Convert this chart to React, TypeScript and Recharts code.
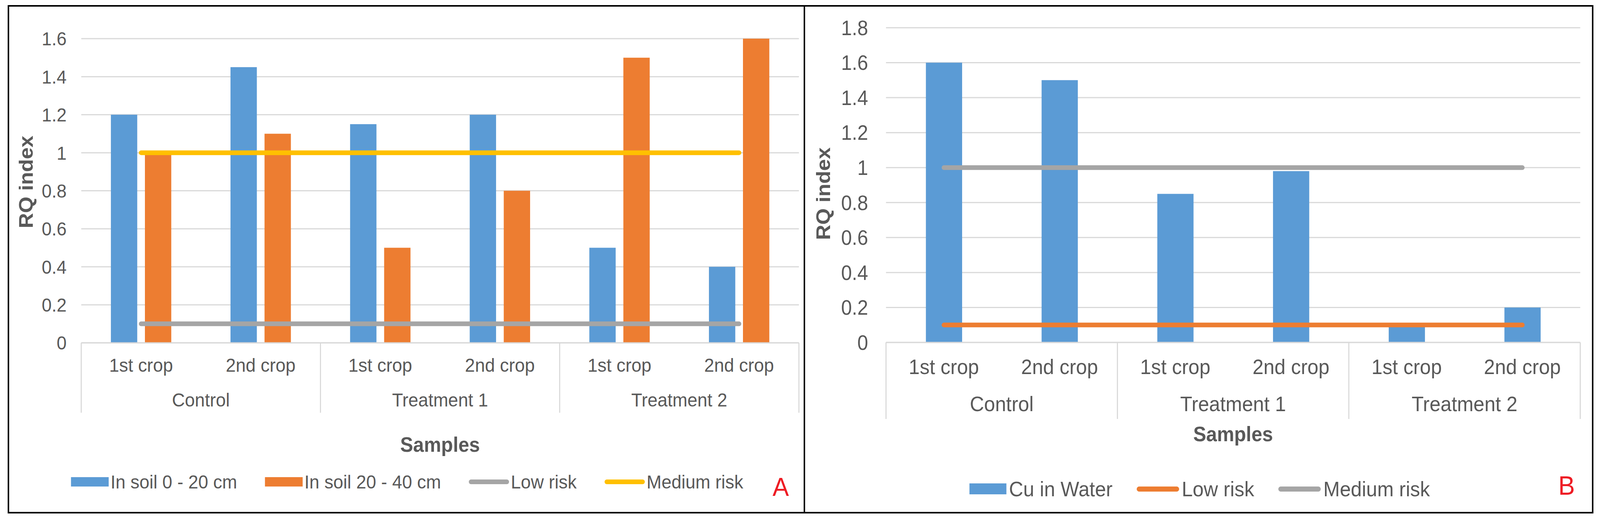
import React from "react";
import { ComposedChart, Bar, Line, XAxis, YAxis, CartesianGrid, Legend, Label } from "recharts";

// categories (two-level axis)
const crops = ["1st crop", "2nd crop", "1st crop", "2nd crop", "1st crop", "2nd crop"];
const groups = ["Control", "Control", "Treatment 1", "Treatment 1", "Treatment 2", "Treatment 2"];

// panel A: soil
const soilTop = [1.2, 1.45, 1.15, 1.2, 0.5, 0.4];
const soilDeep = [1.0, 1.1, 0.5, 0.8, 1.5, 1.6];
const soilLow = [0.1, 0.1, 0.1, 0.1, 0.1, 0.1];
const soilMedium = [1, 1, 1, 1, 1, 1];
const soilTicks = [0, 0.2, 0.4, 0.6, 0.8, 1, 1.2, 1.4, 1.6];

// panel B: water
const waterCu = [1.6, 1.5, 0.85, 0.98, 0.1, 0.2];
const waterLow = [0.1, 0.1, 0.1, 0.1, 0.1, 0.1];
const waterMedium = [1, 1, 1, 1, 1, 1];
const waterTicks = [0, 0.2, 0.4, 0.6, 0.8, 1, 1.2, 1.4, 1.6, 1.8];

const soilData = crops.map((crop, i) => ({
  id: `${groups[i]} / ${crop}`,
  top: soilTop[i],
  deep: soilDeep[i],
  low: soilLow[i],
  medium: soilMedium[i],
}));

const waterData = crops.map((crop, i) => ({
  id: `${groups[i]} / ${crop}`,
  cu: waterCu[i],
  low: waterLow[i],
  medium: waterMedium[i],
}));

const PAGE_W = 4372;
const PAGE_H = 1342;
const FONT = '"Liberation Sans", Arial, sans-serif';
const TEXT = "#595959";
const GRID = "#d9d9d9";
const BLUE = "#5b9bd5";
const ORANGE = "#ed7d31";
const GRAY = "#a5a5a5";
const GOLD = "#ffc000";

type Series = { key: string; name: string; color: string; kind: "bar" | "line" };

const soilSeries: Series[] = [
  { key: "top", name: "In soil 0 - 20 cm", color: BLUE, kind: "bar" },
  { key: "deep", name: "In soil 20 - 40 cm", color: ORANGE, kind: "bar" },
  { key: "low", name: "Low risk", color: GRAY, kind: "line" },
  { key: "medium", name: "Medium risk", color: GOLD, kind: "line" },
];

const waterSeries: Series[] = [
  { key: "cu", name: "Cu in Water", color: BLUE, kind: "bar" },
  { key: "low", name: "Low risk", color: ORANGE, kind: "line" },
  { key: "medium", name: "Medium risk", color: GRAY, kind: "line" },
];

type Layout = {
  left: number;
  width: number;
  height: number;
  margin: { top: number; right: number; left: number; bottom: number };
  yAxisWidth: number;
  xAxisHeight: number;
  barSize: number;
  barGap: number;
  yTickFont: number;
  yTickMargin: number;
  tickFont: number;
  cropDy: number;
  groupDy: number;
  sepLen: number;
  titleY: number;
  yTitleX: number;
  yTitleY: number;
  legend: {
    left: number;
    top: number;
    font: number;
    swatchW: number;
    swatchH: number;
    lineW: number;
    lineH: number;
    textGap: number;
    itemGap: number;
  };
};

const layoutA: Layout = {
  left: 0,
  width: 2197,
  height: PAGE_H,
  margin: { top: 99, right: 14, left: 0, bottom: 164 },
  yAxisWidth: 222,
  xAxisHeight: 300,
  barSize: 72,
  barGap: 21,
  yTickFont: 49,
  yTickMargin: 40,
  tickFont: 49,
  cropDy: 74,
  groupDy: 163,
  sepLen: 179,
  titleY: 1157,
  yTitleX: 90,
  yTitleY: 466,
  legend: { left: 194, top: 1204, font: 49, swatchW: 103, swatchH: 24, lineW: 110, lineH: 12, textGap: 5, itemGap: 76 },
};

const layoutB: Layout = {
  left: 2197,
  width: 2175,
  height: PAGE_H,
  margin: { top: 71, right: 54, left: 0, bottom: 165 },
  yAxisWidth: 224,
  xAxisHeight: 300,
  barSize: 99,
  barGap: 0,
  yTickFont: 53,
  yTickMargin: 49,
  tickFont: 54,
  cropDy: 81,
  groupDy: 176,
  sepLen: 196,
  titleY: 1130,
  yTitleX: 71,
  yTitleY: 496,
  legend: { left: 452, top: 1222, font: 54, swatchW: 101, swatchH: 28, lineW: 116, lineH: 13, textGap: 7, itemGap: 66 },
};

function makeCategoryTick(L: Layout) {
  const plotW = L.width - L.margin.left - L.margin.right - L.yAxisWidth;
  const bw = plotW / crops.length;
  return (props: any) => {
    const { x, y, index: i } = props;
    const first = i === 0 || groups[i] !== groups[i - 1];
    const isLast = i === groups.length - 1;
    let span = 0;
    if (first) {
      let j = i;
      while (j < groups.length && groups[j] === groups[i]) j++;
      span = j - i;
    }
    return (
      <g>
        <text x={x} y={y + L.cropDy} textAnchor="middle" fontSize={L.tickFont} fill={TEXT}>
          {crops[i]}
        </text>
        {first && (
          <text x={x - bw / 2 + (span * bw) / 2} y={y + L.groupDy} textAnchor="middle" fontSize={L.tickFont} fill={TEXT}>
            {groups[i]}
          </text>
        )}
        {first && <line x1={x - bw / 2} x2={x - bw / 2} y1={y} y2={y + L.sepLen} stroke={GRID} strokeWidth={3} />}
        {isLast && <line x1={x + bw / 2} x2={x + bw / 2} y1={y} y2={y + L.sepLen} stroke={GRID} strokeWidth={3} />}
      </g>
    );
  };
}

function makeLegend(L: Layout, series: Series[]) {
  const g = L.legend;
  return () => (
    <div style={{ display: "flex", alignItems: "center", height: 60, fontSize: g.font, color: TEXT, fontFamily: FONT, whiteSpace: "nowrap" }}>
      {series.map((s, i) => (
        <div key={s.key} style={{ display: "flex", alignItems: "center", marginRight: i === series.length - 1 ? 0 : g.itemGap }}>
          {s.kind === "bar" ? (
            <div style={{ width: g.swatchW, height: g.swatchH, background: s.color }} />
          ) : (
            <div style={{ width: g.lineW, height: g.lineH, borderRadius: g.lineH / 2, background: s.color }} />
          )}
          <span style={{ marginLeft: g.textGap, lineHeight: "60px" }}>{s.name}</span>
        </div>
      ))}
    </div>
  );
}

function Panel({ L, data, series, ticks }: { L: Layout; data: any[]; series: Series[]; ticks: number[] }) {
  const plotLeft = L.margin.left + L.yAxisWidth;
  const plotW = L.width - plotLeft - L.margin.right;
  const titleX = plotLeft + plotW / 2;
  const yMax = ticks[ticks.length - 1];
  return (
    <div style={{ position: "absolute", left: L.left, top: 0, width: L.width, height: L.height, overflow: "hidden" }}>
      <ComposedChart width={L.width} height={L.height} data={data} margin={L.margin} barSize={L.barSize} barGap={L.barGap}>
        <CartesianGrid vertical={false} stroke={GRID} strokeWidth={3} />
        <XAxis
          dataKey="id"
          interval={0}
          tickLine={false}
          tickSize={0}
          tickMargin={0}
          height={L.xAxisHeight}
          axisLine={{ stroke: GRID, strokeWidth: 3 }}
          tick={makeCategoryTick(L)}
        >
          <Label
            content={() => (
              <text x={titleX} y={L.titleY} textAnchor="middle" fontSize={53} fontWeight="bold" fill={TEXT}>
                Samples
              </text>
            )}
          />
        </XAxis>
        <YAxis
          width={L.yAxisWidth}
          domain={[0, yMax]}
          ticks={ticks}
          interval={0}
          axisLine={false}
          tickLine={false}
          tickSize={0}
          tickMargin={L.yTickMargin}
          tick={{ fontSize: L.yTickFont, fill: TEXT }}
        >
          <Label
            content={() => (
              <text
                x={L.yTitleX}
                y={L.yTitleY}
                transform={`rotate(-90 ${L.yTitleX} ${L.yTitleY})`}
                textAnchor="middle"
                fontSize={54}
                fontWeight="bold"
                fill={TEXT}
              >
                RQ index
              </text>
            )}
          />
        </YAxis>
        {series
          .filter((s) => s.kind === "bar")
          .map((s) => (
            <Bar key={s.key} dataKey={s.key} name={s.name} fill={s.color} isAnimationActive={false} />
          ))}
        {series
          .filter((s) => s.kind === "line")
          .map((s) => (
            <Line
              key={s.key}
              type="linear"
              dataKey={s.key}
              name={s.name}
              stroke={s.color}
              strokeWidth={12}
              strokeLinecap="round"
              dot={false}
              activeDot={false}
              isAnimationActive={false}
            />
          ))}
        <Legend
          layout="horizontal"
          verticalAlign="middle"
          align="center"
          content={makeLegend(L, series)}
          wrapperStyle={{ left: L.legend.left, top: L.legend.top, width: "auto", height: 60 }}
        />
      </ComposedChart>
    </div>
  );
}

export default function App() {
  // fit the drawing into the actual viewport if it is smaller than the target size
  const vw = typeof window !== "undefined" && window.innerWidth > 0 ? window.innerWidth : PAGE_W;
  const vh = typeof window !== "undefined" && window.innerHeight > 0 ? window.innerHeight : PAGE_H;
  const sx = Math.min(1, vw / PAGE_W);
  const sy = Math.min(1, vh / PAGE_H);
  return (
    <div style={{ position: "fixed", left: 0, top: 0, width: vw, height: vh, overflow: "hidden", background: "#fff" }}>
      <div
        style={{
          position: "absolute",
          left: 0,
          top: 0,
          width: PAGE_W,
          height: PAGE_H,
          fontFamily: FONT,
          transform: `scale(${sx}, ${sy})`,
          transformOrigin: "0 0",
        }}
      >
        <Panel L={layoutA} data={soilData} series={soilSeries} ticks={soilTicks} />
        <Panel L={layoutB} data={waterData} series={waterSeries} ticks={waterTicks} />
        <svg width={PAGE_W} height={PAGE_H} style={{ position: "absolute", left: 0, top: 0, pointerEvents: "none" }}>
          <rect x={23} y={15} width={4329} height={1298} fill="none" stroke="#000" strokeWidth={4} />
          <line x1={2198} x2={2198} y1={15} y2={1313} stroke="#000" strokeWidth={4} />
          <text x={2111} y={1270} fontSize={67} fill="#ee1c24" fontFamily={FONT}>
            A
          </text>
          <text x={4258} y={1267} fontSize={68} fill="#ee1c24" fontFamily={FONT}>
            B
          </text>
        </svg>
      </div>
    </div>
  );
}
